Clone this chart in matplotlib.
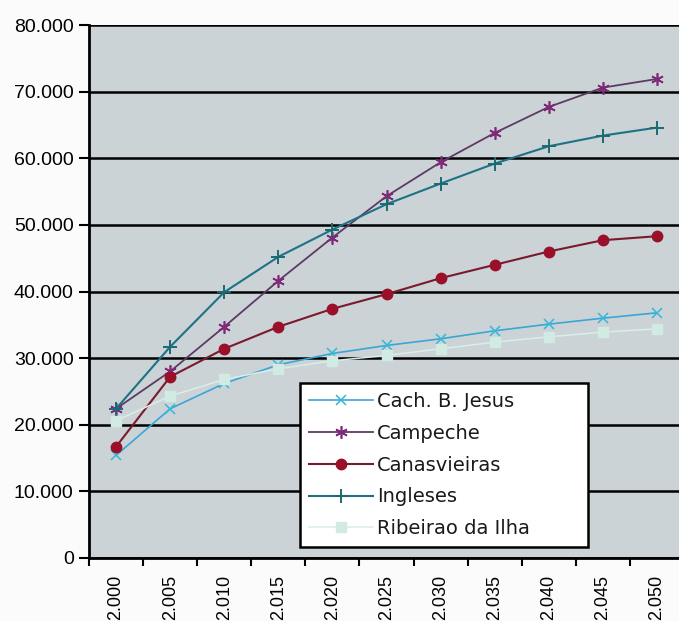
import matplotlib
matplotlib.use("Agg")
import matplotlib.pyplot as plt
from matplotlib.ticker import FuncFormatter, FixedLocator

# Population projections by district (inhabitants)
years = [2000, 2005, 2010, 2015, 2020, 2025, 2030, 2035, 2040, 2045, 2050]
year_labels = ["2.000", "2.005", "2.010", "2.015", "2.020", "2.025",
               "2.030", "2.035", "2.040", "2.045", "2.050"]

cach_b_jesus = [15400, 22400, 26200, 29000, 30700, 31900, 32900, 34100, 35100, 36000, 36800]
campeche = [22400, 28000, 34700, 41600, 48100, 54300, 59400, 63800, 67700, 70600, 71900]
canasvieiras = [16700, 27200, 31400, 34700, 37400, 39600, 42000, 44000, 46000, 47700, 48300]
ingleses = [22400, 31700, 39900, 45200, 49300, 53100, 56200, 59200, 61800, 63400, 64600]
ribeirao_da_ilha = [20600, 24300, 26800, 28400, 29600, 30400, 31400, 32400, 33200, 33900, 34400]

plt.rcParams["font.family"] = ["Liberation Sans", "DejaVu Sans"]

fig = plt.figure(figsize=(6.79, 6.21), dpi=100, facecolor="#fbfbfb")
ax_left, ax_right, ax_top, ax_bottom = 89, 684, 25, 558
ax = fig.add_axes([ax_left / 679, 1 - ax_bottom / 621,
                   (ax_right - ax_left) / 679, (ax_bottom - ax_top) / 621])
ax.set_facecolor("#cbd3d7")

x = list(range(len(years)))

series = [
    ("Cach. B. Jesus", cach_b_jesus, dict(color="#3aa6d6", marker="x", ms=6.5, mew=1.1,
                                          mec="#34b8d8", lw=1.2)),
    ("Campeche", campeche, dict(color="#5e3a63", marker=(6, 2, 0), ms=9, mew=1.2,
                                mec="#7e2a78", lw=1.3)),
    ("Canasvieiras", canasvieiras, dict(color="#7a1a2c", marker="o", ms=7.5,
                                        mfc="#9a1028", mec="#9a1028", lw=1.5)),
    ("Ingleses", ingleses, dict(color="#1d7286", marker="+", ms=10, mew=1.4,
                                mec="#1b6a72", lw=1.5)),
    ("Ribeirao da Ilha", ribeirao_da_ilha, dict(color="#d9eee8", marker="s", ms=6.5,
                                                mfc="#d2ebe2", mec="#d2ebe2", lw=1.1)),
]

for name, vals, style in series:
    ax.plot(x, vals, label=name, zorder=3, clip_on=False, **style)

ax.set_xlim(-0.5, len(years) - 0.5)
ax.set_ylim(0, 80000)

# Horizontal gridlines at every 10.000
ax.set_yticks(range(0, 80001, 10000))
ax.yaxis.set_major_formatter(FuncFormatter(lambda v, p: f"{int(v):,}".replace(",", ".")))
ax.yaxis.grid(True, color="black", lw=1.8)
ax.set_axisbelow(True)

# Category axis: ticks on boundaries, labels centred on each category
ax.xaxis.set_major_locator(FixedLocator([i - 0.5 for i in range(len(years) + 1)]))
ax.xaxis.set_minor_locator(FixedLocator(x))
ax.set_xticklabels([])
ax.set_xticklabels(year_labels, minor=True, rotation=90)
ax.tick_params(axis="x", which="minor", length=0, pad=12, labelsize=13)
ax.tick_params(axis="x", which="major", length=6, width=1.5, direction="out")
ax.tick_params(axis="y", length=7, width=1.5, direction="out", labelsize=14, pad=4)

for side in ("top", "right"):
    ax.spines[side].set_visible(False)
for side in ("left", "bottom"):
    ax.spines[side].set_linewidth(2)
    ax.spines[side].set_color("black")

# Legend box in the lower right of the plot area
aw, ah = ax_right - ax_left, ax_bottom - ax_top
leg_box = ((300 - ax_left) / aw, (ax_bottom - 547) / ah, 288 / aw, 167 / ah)
leg = ax.legend(loc="lower left", bbox_to_anchor=leg_box, mode="expand", borderaxespad=0,
                prop=dict(family="DejaVu Sans", size=14), frameon=True, fancybox=False,
                edgecolor="black", facecolor="white", framealpha=1,
                handlelength=3.3, handletextpad=0.2, borderpad=0.45, labelspacing=0.66)
leg.get_frame().set_linewidth(1.8)
for t in leg.get_texts():
    t.set_color("#1a1a1a")

fig.savefig("out.png", dpi=100, facecolor=fig.get_facecolor())
